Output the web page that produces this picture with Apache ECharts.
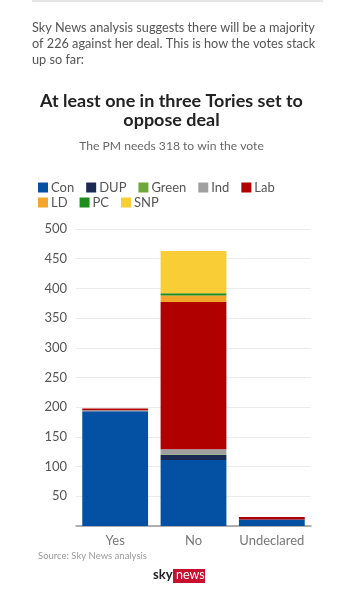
<!DOCTYPE html>
<html><head><meta charset="utf-8">
<script src="https://cdn.jsdelivr.net/npm/echarts@6/dist/echarts.min.js"></script>
<style>html,body{margin:0;padding:0;background:#fff}#c{width:343px;height:600px}</style>
</head><body><div id="c"></div>
<script>
const categories = ['Yes', 'No', 'Undeclared'];
const parties = ['Con', 'DUP', 'Green', 'Ind', 'Lab', 'LD', 'PC', 'SNP'];
const con   = [193, 111, 11];
const dup   = [0, 9, 0];
const green = [0, 1, 0];
const ind   = [2, 8, 0];
const lab   = [3, 248, 4];
const ld    = [0, 11, 0];
const pc    = [0, 4, 0];
const snp   = [0, 71, 0];
const yTicks = [0, 50, 100, 150, 200, 250, 300, 350, 400, 450, 500];

const seriesValues = [con, dup, green, ind, lab, ld, pc, snp];
const colors = ['#0451a3', '#1b2a52', '#6ea83a', '#a0a0a0', '#b00000', '#f4a62a', '#1f8c1f', '#f8cd35'];
const font = 'Lato';

// fit a text's font size to a target width measured on the reference
function fit(text, weight, family, target, maxSize) {
  const ctx = document.createElement('canvas').getContext('2d');
  ctx.font = weight + ' 100px ' + family;
  const w = ctx.measureText(text).width;
  return Math.min(maxSize, 100 * target / w);
}
const paraSize = fit('Sky News analysis suggests there will be a majority', 'normal', 'Lato', 283, 15);
const titleSize = fit('At least one in three Tories set to', 'bold', 'Lato', 263, 19);
const subSize = fit('The PM needs 318 to win the vote', 'normal', 'Lato', 185, 14);

const legendText = { fontSize: 13, color: '#555', padding: [0, 0, 0, -2], fontFamily: font };

const chart = echarts.init(document.getElementById('c'));
chart.setOption({
  animation: false,
  color: colors,
  textStyle: { fontFamily: font },
  title: [{
    text: 'At least one in three Tories set to\noppose deal',
    left: 'center', top: 87,
    textStyle: { fontSize: titleSize, fontWeight: 'bold', color: '#222', lineHeight: 18.5, fontFamily: font }
  }, {
    text: 'The PM needs 318 to win the vote',
    left: 'center', top: 135,
    textStyle: { fontSize: subSize, fontWeight: 'normal', color: '#666', fontFamily: font }
  }],
  graphic: [
    { type: 'rect', shape: { x: 32, y: 0, width: 291, height: 2 }, style: { fill: '#e6e6e6' } },
    { type: 'text', left: 32, top: 20,
      style: { text: 'Sky News analysis suggests there will be a majority\nof 226 against her deal. This is how the votes stack\nup so far:',
        font: paraSize.toFixed(2) + 'px Lato', fill: '#555', lineHeight: 16 } },
    { type: 'text', left: 38, top: 551,
      style: { text: 'Source: Sky News analysis', font: '9.5px Lato', fill: '#999' } },
    { type: 'text', left: 153, top: 568,
      style: { text: 'sky', font: 'bold 13px Lato', fill: '#222' } },
    { type: 'rect', shape: { x: 173, y: 569, width: 32, height: 14 }, style: { fill: '#c8102e' } },
    { type: 'text', left: 176, top: 568,
      style: { text: 'news', font: '12.5px Lato', fill: '#fff' } }
  ],
  legend: [{
    data: parties.slice(0, 5),
    left: 33, top: 176,
    itemWidth: 10, itemHeight: 10, itemGap: 12,
    icon: 'rect',
    textStyle: legendText
  }, {
    data: parties.slice(5),
    left: 33, top: 191,
    itemWidth: 10, itemHeight: 10, itemGap: 12,
    icon: 'rect',
    textStyle: legendText
  }],
  grid: { left: 76, right: 32, top: 229, bottom: 74 },
  xAxis: {
    type: 'category', data: categories,
    axisTick: { show: false },
    axisLine: { lineStyle: { color: '#999', width: 1.5 } },
    axisLabel: { fontSize: 13, color: '#777', margin: 8, interval: 0 }
  },
  yAxis: {
    type: 'value', min: 0, max: 500, interval: 50,
    axisLabel: { fontSize: 13, color: '#555', margin: 9,
      formatter: v => (v === 0 ? '' : String(yTicks[yTicks.indexOf(v)])) },
    splitLine: { lineStyle: { color: '#ebebeb' } }
  },
  series: parties.map((p, i) => ({
    name: p, type: 'bar', stack: 'all', data: seriesValues[i],
    barCategoryGap: '16%'
  }))
});
</script></body></html>
